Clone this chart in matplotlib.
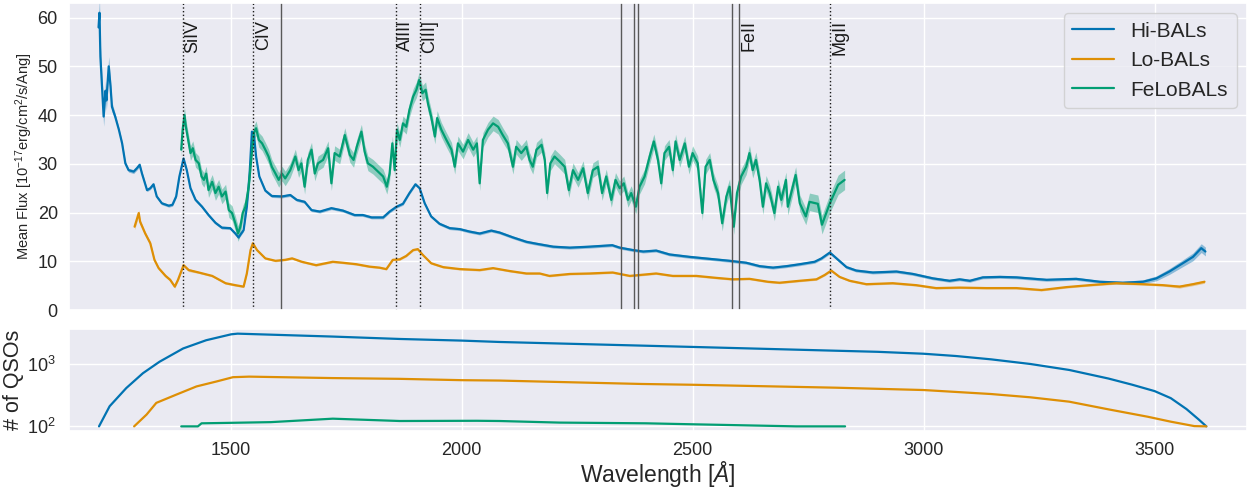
import numpy as np
import matplotlib
matplotlib.use('Agg')
import matplotlib.pyplot as plt
import seaborn as sns

sns.set_theme(style='darkgrid', palette='colorblind')
plt.rcParams['font.family'] = ['Liberation Sans', 'DejaVu Sans']
plt.rcParams['mathtext.fontset'] = 'custom'
plt.rcParams['mathtext.rm'] = 'Liberation Sans'
plt.rcParams['mathtext.it'] = 'Liberation Sans:italic'

# composite spectra: (wavelength [A], mean flux, 1-sigma)
hibal = [
    (1214, 58.0, 2.5), (1216, 61.0, 3.0), (1218, 52.0, 2.5), (1225, 39.7, 2.0), (1229, 45.0, 2.0),
    (1231, 43.0, 2.0), (1236, 50.0, 2.0), (1240, 45.8, 1.5), (1243, 41.7, 1.0), (1250, 39.7, 0.6),
    (1258, 37.0, 0.4), (1265, 34.2, 0.4), (1272, 30.1, 0.4), (1279, 28.7, 0.4), (1290, 28.4, 0.4),
    (1297, 29.1, 0.4), (1303, 29.8, 0.4), (1308, 28.0, 0.4), (1319, 24.6, 0.3), (1326, 25.0, 0.3),
    (1333, 25.8, 0.3), (1340, 23.3, 0.3), (1351, 21.9, 0.3), (1366, 21.4, 0.3), (1374, 21.6, 0.3),
    (1382, 23.3, 0.3), (1389, 27.4, 0.3), (1398, 31.1, 0.3), (1405, 28.7, 0.3), (1413, 25.0, 0.3),
    (1424, 22.6, 0.3), (1438, 21.2, 0.3), (1452, 19.5, 0.3), (1467, 17.9, 0.3), (1481, 16.9, 0.3),
    (1499, 16.8, 0.3), (1510, 15.7, 0.3), (1517, 14.9, 0.3), (1528, 16.4, 0.3), (1535, 21.2, 0.3),
    (1541, 28.0, 0.3), (1546, 36.6, 0.3), (1550, 36.3, 0.3), (1555, 31.5, 0.3), (1562, 27.4, 0.3),
    (1575, 24.5, 0.3), (1589, 23.4, 0.3), (1611, 23.3, 0.3), (1629, 23.6, 0.3), (1643, 22.6, 0.3),
    (1660, 22.2, 0.3), (1675, 20.5, 0.3), (1693, 20.2, 0.3), (1718, 20.9, 0.3), (1743, 20.4, 0.3),
    (1768, 19.5, 0.3), (1786, 19.5, 0.3), (1805, 19.0, 0.3), (1830, 19.0, 0.3), (1844, 20.2, 0.3),
    (1859, 21.2, 0.3), (1873, 21.8, 0.3), (1887, 24.0, 0.3), (1900, 25.8, 0.3), (1909, 25.0, 0.3),
    (1920, 21.9, 0.3), (1934, 19.2, 0.3), (1952, 17.7, 0.3), (1974, 16.8, 0.3), (1996, 16.6, 0.3),
    (2017, 16.1, 0.3), (2039, 15.7, 0.3), (2064, 16.3, 0.3), (2082, 15.9, 0.3), (2111, 14.9, 0.3),
    (2140, 14.0, 0.3), (2162, 13.6, 0.3), (2198, 13.0, 0.3), (2234, 12.8, 0.3), (2277, 13.0, 0.3),
    (2326, 13.3, 0.3), (2342, 12.8, 0.3), (2371, 12.3, 0.3), (2393, 12.0, 0.3), (2421, 12.2, 0.3),
    (2450, 11.4, 0.3), (2494, 10.9, 0.3), (2537, 10.5, 0.3), (2580, 10.1, 0.3), (2616, 9.7, 0.3),
    (2645, 9.0, 0.3), (2674, 8.7, 0.3), (2703, 9.0, 0.3), (2732, 9.4, 0.3), (2764, 9.9, 0.3),
    (2779, 10.6, 0.3), (2797, 11.8, 0.3), (2815, 10.3, 0.3), (2833, 8.8, 0.3), (2854, 8.1, 0.3),
    (2890, 7.7, 0.3), (2941, 7.9, 0.3), (2977, 7.4, 0.3), (3020, 6.5, 0.3), (3056, 6.0, 0.3),
    (3078, 6.3, 0.3), (3100, 6.0, 0.3), (3128, 6.7, 0.3), (3165, 6.8, 0.3), (3201, 6.7, 0.3),
    (3266, 6.2, 0.3), (3330, 6.4, 0.3), (3381, 5.8, 0.3), (3431, 5.6, 0.3), (3475, 5.8, 0.4),
    (3504, 6.5, 0.5), (3532, 7.9, 0.6), (3561, 9.6, 0.7), (3583, 10.9, 0.8), (3601, 12.7, 0.9),
    (3610, 12.0, 0.9),
]

lobal = [
    (1292, 17.1, 0.6), (1301, 19.9, 0.6), (1304, 18.1, 0.5), (1315, 15.7, 0.4), (1326, 13.7, 0.4),
    (1335, 10.3, 0.3), (1344, 8.6, 0.3), (1359, 7.0, 0.3), (1369, 6.2, 0.3), (1379, 4.8, 0.3),
    (1386, 6.2, 0.3), (1398, 9.2, 0.3), (1409, 8.2, 0.3), (1431, 7.7, 0.2), (1460, 7.0, 0.2),
    (1489, 5.5, 0.2), (1510, 5.1, 0.2), (1528, 4.8, 0.2), (1535, 7.5, 0.2), (1543, 12.3, 0.2),
    (1548, 13.7, 0.2), (1557, 12.3, 0.2), (1575, 10.6, 0.2), (1597, 10.1, 0.2), (1618, 10.3, 0.2),
    (1633, 10.6, 0.2), (1654, 9.9, 0.2), (1685, 9.2, 0.2), (1721, 9.9, 0.2), (1743, 9.7, 0.2),
    (1772, 9.4, 0.2), (1801, 8.9, 0.2), (1822, 8.7, 0.2), (1837, 8.4, 0.2), (1851, 10.3, 0.2),
    (1866, 10.4, 0.2), (1880, 11.1, 0.2), (1895, 12.3, 0.2), (1905, 12.5, 0.2), (1916, 11.3, 0.2),
    (1934, 9.6, 0.2), (1960, 8.8, 0.2), (1996, 8.4, 0.2), (2039, 8.2, 0.2), (2068, 8.6, 0.2),
    (2104, 8.0, 0.2), (2140, 7.5, 0.2), (2169, 7.5, 0.2), (2190, 7.0, 0.2), (2234, 7.4, 0.2),
    (2277, 7.5, 0.2), (2327, 7.7, 0.2), (2364, 7.0, 0.2), (2421, 7.5, 0.2), (2457, 7.0, 0.2),
    (2508, 7.0, 0.2), (2551, 6.6, 0.2), (2587, 6.3, 0.2), (2623, 6.4, 0.2), (2663, 5.8, 0.2),
    (2688, 5.6, 0.2), (2732, 6.0, 0.2), (2768, 6.3, 0.2), (2786, 7.2, 0.2), (2800, 8.1, 0.2),
    (2818, 6.8, 0.2), (2840, 6.0, 0.2), (2876, 5.3, 0.2), (2933, 5.5, 0.2), (2984, 5.1, 0.2),
    (3027, 4.5, 0.2), (3078, 4.6, 0.2), (3136, 4.5, 0.2), (3201, 4.5, 0.2), (3255, 4.1, 0.2),
    (3309, 4.7, 0.2), (3359, 5.1, 0.2), (3417, 5.5, 0.2), (3475, 5.3, 0.2), (3518, 5.1, 0.2),
    (3554, 4.8, 0.3), (3583, 5.3, 0.3), (3608, 5.8, 0.3),
]

felobal = [
    (1393, 32.9, 1.5), (1396, 37.0, 1.5), (1400, 40.0, 1.6), (1403, 37.6, 1.5), (1408, 34.9, 1.5),
    (1413, 32.2, 1.5), (1418, 33.2, 1.5), (1424, 30.8, 1.5), (1431, 30.1, 1.5), (1437, 27.4, 1.5),
    (1442, 26.7, 1.5), (1447, 28.0, 1.5), (1452, 24.6, 1.5), (1460, 26.3, 1.5), (1467, 24.0, 1.5),
    (1474, 25.3, 1.5), (1481, 23.3, 1.5), (1489, 24.3, 1.5), (1496, 20.5, 1.5), (1503, 19.9, 1.5),
    (1510, 17.8, 1.5), (1516, 15.7, 1.6), (1521, 17.1, 1.6), (1526, 19.9, 1.5), (1532, 21.2, 1.5),
    (1539, 25.3, 1.5), (1545, 31.5, 1.5), (1550, 36.3, 1.5), (1555, 37.3, 1.5), (1561, 34.9, 1.5),
    (1568, 34.2, 1.5), (1575, 32.9, 1.5), (1582, 31.5, 1.5), (1589, 29.4, 1.5), (1597, 28.0, 1.5),
    (1604, 26.7, 1.5), (1611, 28.0, 1.5), (1618, 27.0, 1.5), (1629, 28.7, 1.5), (1640, 31.5, 1.5),
    (1647, 28.7, 1.5), (1653, 30.1, 1.5), (1660, 25.3, 1.5), (1667, 30.8, 1.5), (1675, 32.9, 1.5),
    (1682, 28.0, 1.5), (1689, 30.1, 1.5), (1700, 30.8, 1.5), (1711, 33.2, 1.5), (1718, 26.0, 1.5),
    (1725, 32.2, 1.5), (1736, 31.5, 1.5), (1747, 35.9, 1.5), (1758, 31.8, 1.5), (1766, 30.8, 1.5),
    (1773, 33.5, 1.5), (1783, 36.6, 1.5), (1790, 32.5, 1.5), (1797, 30.1, 1.5), (1808, 29.4, 1.5),
    (1819, 28.4, 1.5), (1830, 27.4, 1.5), (1838, 25.3, 1.5), (1844, 28.0, 1.5), (1850, 34.2, 1.5),
    (1855, 28.7, 1.5), (1860, 37.0, 1.5), (1866, 34.9, 1.5), (1873, 38.3, 1.5), (1880, 37.6, 1.5),
    (1887, 41.1, 1.5), (1895, 43.8, 1.6), (1902, 45.2, 1.6), (1908, 47.2, 1.6), (1915, 44.5, 1.6),
    (1922, 45.2, 1.6), (1927, 42.4, 1.6), (1934, 39.7, 1.5), (1942, 35.6, 1.5), (1947, 39.4, 1.5),
    (1956, 37.0, 1.5), (1967, 34.9, 1.5), (1978, 32.9, 1.5), (1985, 29.4, 1.5), (1992, 34.2, 1.5),
    (2003, 32.5, 1.5), (2014, 34.9, 1.5), (2025, 32.9, 1.5), (2033, 34.2, 1.5), (2039, 26.0, 1.5),
    (2046, 34.9, 1.5), (2057, 37.0, 1.5), (2068, 38.3, 1.5), (2079, 37.6, 1.5), (2089, 35.9, 1.5),
    (2100, 34.2, 1.5), (2111, 29.4, 1.5), (2118, 33.5, 1.5), (2129, 32.2, 1.5), (2140, 33.5, 1.5),
    (2147, 30.8, 1.5), (2154, 29.4, 1.5), (2162, 32.9, 1.5), (2173, 33.9, 1.5), (2180, 30.8, 1.5),
    (2185, 24.0, 1.5), (2192, 30.1, 1.5), (2201, 31.5, 1.5), (2212, 30.5, 1.5), (2223, 29.4, 1.5),
    (2232, 24.6, 1.5), (2241, 28.7, 1.5), (2252, 26.7, 1.5), (2263, 29.1, 1.5), (2273, 24.0, 1.5),
    (2284, 28.7, 1.5), (2295, 29.4, 1.5), (2304, 24.0, 1.5), (2313, 27.4, 1.5), (2324, 22.6, 1.5),
    (2333, 26.7, 1.5), (2342, 25.0, 1.5), (2351, 26.0, 1.5), (2360, 22.6, 1.5), (2367, 24.0, 1.5),
    (2377, 21.2, 1.5), (2385, 25.3, 1.5), (2396, 27.4, 1.5), (2407, 31.5, 1.5), (2416, 34.6, 1.5),
    (2425, 30.8, 1.5), (2432, 26.0, 1.5), (2439, 32.2, 1.5), (2449, 33.5, 1.5), (2457, 28.7, 1.5),
    (2463, 34.6, 1.5), (2472, 30.8, 1.5), (2483, 34.2, 1.5), (2492, 29.4, 1.5), (2500, 32.2, 1.5),
    (2511, 30.1, 1.5), (2521, 19.9, 1.5), (2528, 29.4, 1.5), (2537, 30.8, 1.5), (2545, 26.7, 1.5),
    (2555, 24.0, 1.5), (2564, 17.8, 1.6), (2573, 23.3, 1.6), (2580, 25.3, 1.6), (2589, 17.1, 1.6),
    (2596, 24.0, 1.6), (2605, 27.4, 1.6), (2616, 29.4, 1.6), (2623, 32.2, 1.6), (2630, 28.7, 1.6),
    (2637, 30.8, 1.6), (2645, 26.7, 1.6), (2652, 21.2, 1.6), (2659, 26.0, 1.6), (2667, 24.0, 1.6),
    (2677, 19.9, 1.6), (2685, 25.3, 1.6), (2692, 22.6, 1.6), (2702, 26.7, 1.6), (2706, 21.2, 1.7),
    (2723, 27.7, 1.7), (2732, 21.9, 1.7), (2745, 19.2, 1.7), (2753, 22.2, 1.8), (2771, 21.8, 1.8),
    (2780, 17.5, 1.9), (2797, 21.9, 1.9), (2815, 25.7, 2.0), (2829, 26.7, 2.0),
]

# number of contributing quasars per wavelength bin
hibal_n = [
    (1215, 100), (1238, 211), (1274, 414), (1310, 718), (1346, 1100), (1397, 1798),
    (1447, 2443), (1501, 3042), (1515, 3118), (1720, 2800), (1866, 2560), (2000, 2410),
    (2082, 2290), (2390, 2000), (2500, 1905), (2809, 1656), (2900, 1590), (3000, 1480),
    (3070, 1360), (3146, 1202), (3231, 1012), (3315, 811), (3400, 590), (3451, 470),
    (3500, 370), (3535, 285), (3569, 190), (3595, 130), (3612, 100),
]
lobal_n = [
    (1291, 100), (1318, 155), (1339, 239), (1382, 324), (1426, 440), (1469, 528),
    (1505, 620), (1540, 633), (1720, 600), (1866, 583), (2000, 555), (2082, 547),
    (2390, 482), (2500, 468), (2809, 420), (3000, 385), (3146, 332), (3231, 294),
    (3315, 250), (3400, 188), (3485, 143), (3535, 119), (3586, 101), (3612, 100),
]
felobal_n = [
    (1393, 100), (1429, 100), (1437, 112), (1500, 114), (1587, 117), (1721, 133),
    (1866, 122), (2033, 123), (2082, 122), (2212, 115), (2399, 112), (2500, 108),
    (2555, 106), (2724, 100), (2830, 100),
]

names = ['Hi-BALs', 'Lo-BALs', 'FeLoBALs']

# emission lines marked on the composite
line_names = ['SiIV', 'CIV', 'AlIII', 'CIII]', 'MgII']
line_waves = [1397, 1549, 1857, 1909, 2798]
feii_waves = [1608, 2344, 2374, 2382, 2586, 2600]

colors = sns.color_palette('colorblind')[:3]

fig = plt.figure(figsize=(12.52, 4.91), dpi=100)
ax1 = fig.add_axes([0.0551, 0.3686, 0.9409, 0.6253])
ax2 = fig.add_axes([0.0551, 0.1222, 0.9409, 0.2077], sharex=ax1)

for spec, counts, name, c in zip([hibal, lobal, felobal], [hibal_n, lobal_n, felobal_n], names, colors):
    s = np.array(spec)
    ax1.plot(s[:, 0], s[:, 1], color=c, lw=1.6, label=name)
    ax1.fill_between(s[:, 0], s[:, 1] - s[:, 2], s[:, 1] + s[:, 2], color=c, alpha=0.4, lw=0)
    n = np.array(counts)
    ax2.plot(n[:, 0], n[:, 1], color=c, lw=1.6)

trans = ax1.get_xaxis_transform()
for name, w in zip(line_names, line_waves):
    ax1.axvline(w, color='k', ls=':', lw=1)
    ax1.text(w + 3, 0.945, name, rotation=90, va='top', ha='left', fontsize=13,
             color='0.1', transform=trans)
for w in feii_waves:
    ax1.axvline(w, color='0.35', lw=1)
ax1.text(feii_waves[-1] + 3, 0.945, 'FeII', rotation=90, va='top', ha='left', fontsize=13,
         color='0.1', transform=trans)

ax1.set_xlim(1150, 3700)
ax1.set_ylim(0, 63)
ax1.set_ylabel(r'Mean Flux [$10^{-17}$erg/cm$^2$/s/Ang]', fontsize=10.5, labelpad=2)
ax1.tick_params(labelbottom=False, labelsize=13)
ax1.tick_params(axis='y', pad=2)
ax1.legend(loc='upper right', fontsize=15)

ax2.set_yscale('log')
ax2.set_ylabel('# of QSOs', fontsize=15.5, labelpad=2)
ax2.set_xlabel('Wavelength [$Å$]', fontsize=16.5, labelpad=0)
ax2.tick_params(labelsize=13)
ax2.tick_params(axis='x', pad=2)

fig.savefig('out.png', dpi=100)
